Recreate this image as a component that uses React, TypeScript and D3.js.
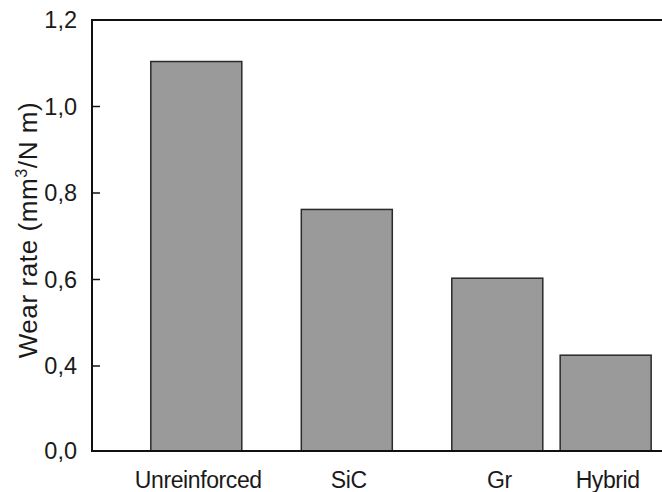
import React from "react";
import * as d3 from "d3";

// wear rate per composite type
const categories = ["Unreinforced", "SiC", "Gr", "Hybrid"];
const wearRate = [1.104, 0.762, 0.603, 0.425];
// numeric x slot of each bar (the original spacing is uneven)
const slots = [0, 1, 2, 2.72];
const yTicks = [0.0, 0.4, 0.6, 0.8, 1.0, 1.2];
const yTickLabels = ["0,0", "0,4", "0,6", "0,8", "1,0", "1,2"];

const W = 662;
const H = 492;
const left = 92;
const top = 20;
const bottom = 451;
const font = "'Liberation Sans', Arial, Helvetica, sans-serif";

export default function App() {
  // axis breaks below 0.4 in the original
  const y = d3.scaleLinear().domain([0, 0.4, 1.2]).range([bottom, 366, top]);
  const x = d3.scaleLinear().domain([0, 1]).range([196.3, 346.8]);
  const barW = 91;

  return (
    <svg
      width={W}
      height={H}
      style={{ position: "absolute", left: 0, top: 0, background: "#fff" }}
      fontFamily={font}
    >
      {/* bars */}
      {categories.map((c, i) => (
        <rect
          key={c}
          x={x(slots[i]) - barW / 2}
          y={y(wearRate[i])}
          width={barW}
          height={bottom - y(wearRate[i])}
          fill="#9a9a9a"
          stroke="#2a2a2a"
          strokeWidth={1.5}
        />
      ))}

      {/* frame */}
      <line x1={left} x2={W} y1={top} y2={top} stroke="#111" strokeWidth={2} />
      <line x1={left} x2={W} y1={bottom} y2={bottom} stroke="#111" strokeWidth={2} />
      <line x1={left} x2={left} y1={top - 1} y2={bottom + 1} stroke="#111" strokeWidth={2} />

      {/* y ticks */}
      {yTicks.map((t, i) => (
        <g key={t} transform={`translate(0,${y(t)})`}>
          {t > 0 && t < 1.2 && (
            <line x1={left} x2={left + 8} stroke="#111" strokeWidth={1.5} />
          )}
          <text
            x={77}
            textAnchor="end"
            dominantBaseline="central"
            fontSize={23.5}
            fill="#1a1a1a"
          >
            {yTickLabels[i]}
          </text>
        </g>
      ))}

      {/* x labels */}
      {categories.map((c, i) => (
        <text
          key={c}
          x={x(slots[i]) + 2}
          y={488}
          textAnchor="middle"
          fontSize={23}
          letterSpacing={-0.4}
          fill="#1a1a1a"
        >
          {c}
        </text>
      ))}

      {/* y title */}
      <text
        transform="translate(37,230) rotate(-90)"
        textAnchor="middle"
        fontSize={26}
        letterSpacing={0.6}
        fill="#1a1a1a"
      >
        Wear rate (mm
        <tspan fontSize={16} dy={-10}>3</tspan>
        <tspan dy={10}>/N m)</tspan>
      </text>
    </svg>
  );
}
